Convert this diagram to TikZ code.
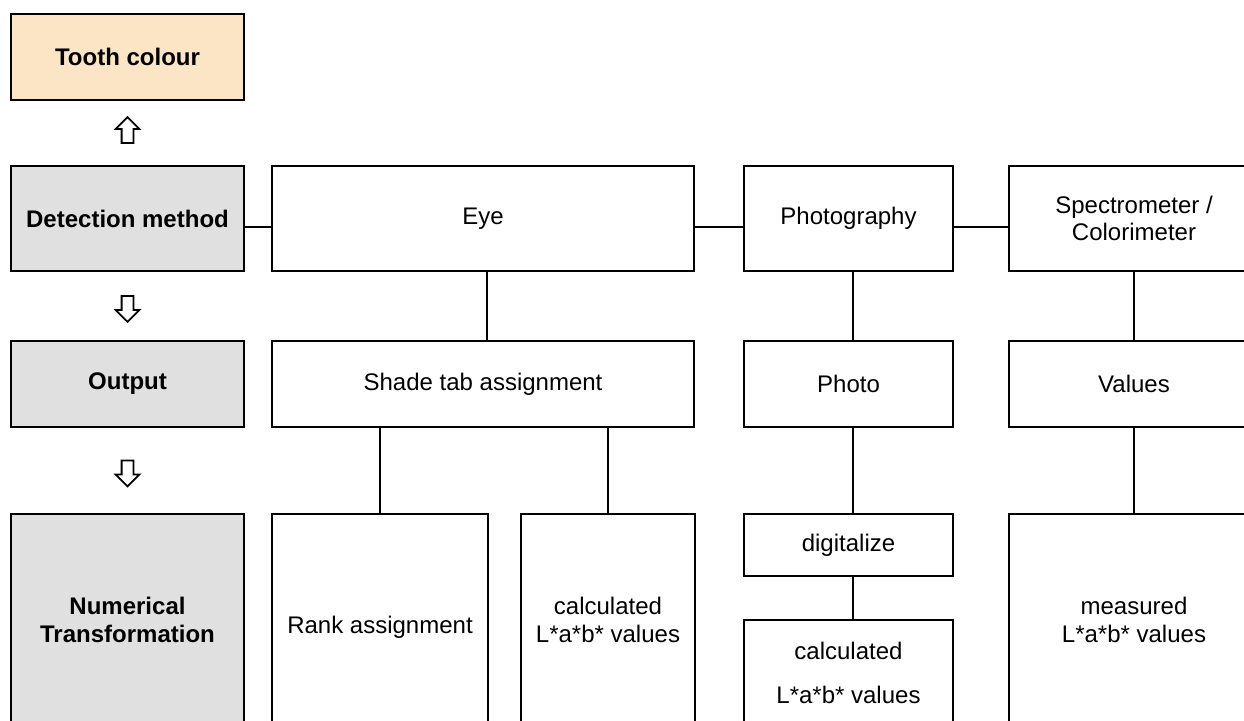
\documentclass[tikz,border=0pt]{standalone}
\usepackage{fontspec}
\setmainfont{Liberation Sans}
\usepackage{xcolor}
\definecolor{toothorange}{RGB}{252,229,196}
\definecolor{headgray}{RGB}{224,224,224}
\usepackage{tikz}
\usetikzlibrary{positioning, shapes.arrows, calc}

\begin{document}
\begin{tikzpicture}[
    box/.style={draw=black, line width=1pt, fill=white, align=center,
                font=\fontsize{13.66}{15.7}\selectfont, inner sep=2pt},
    headbox/.style={box, fill=headgray, font=\fontsize{13.66}{15.7}\selectfont\bfseries},
    link/.style={draw=black, line width=0.8pt},
    flowarrow/.style={draw=black, fill=white, line width=1pt, single arrow,
                single arrow head extend=0.12cm, minimum height=0.52cm,
                inner sep=0.1cm}
  ]
  \useasboundingbox (0,0) rectangle (24.88,14.4);
  \clip (0,0) rectangle (24.88,14.4);
  % Left column
  \node[headbox, fill=toothorange, minimum width=4.66cm, minimum height=1.72cm] (tooth) at (2.55,13.26) {Tooth colour};
  \node[headbox, minimum width=4.66cm, minimum height=2.10cm] (detect) at (2.55,10.03) {Detection method};
  \node[headbox, minimum width=4.66cm, minimum height=1.72cm] (output) at (2.55,6.72) {Output};
  \node[headbox, minimum width=4.66cm, minimum height=4.24cm] (numeric) at (2.55,2.00) {Numerical\\Transformation};
  % Hollow arrows between the categories
  \node[flowarrow, rotate=90] (uparr) at ($(tooth.south)!0.5!(detect.north)$) {};
  \node[flowarrow, rotate=-90] (downarr) at ($(detect.south)!0.5!(output.north)$) {};
  \node[flowarrow, rotate=-90] (downarrb) at ($(output.south)!0.5!(numeric.north)$) {};
  % Detection methods
  \node[box, minimum width=8.44cm, minimum height=2.10cm] (eye) at (9.66,10.03) {Eye};
  \node[box, minimum width=4.18cm, minimum height=2.10cm] (photography) at (16.97,10.03) {Photography};
  \node[box, minimum width=5.00cm, minimum height=2.10cm] (spectro) at (22.68,10.03) {Spectrometer /\\Colorimeter};
  % Outputs
  \node[box, minimum width=8.44cm, minimum height=1.72cm] (shade) at (9.66,6.72) {Shade tab assignment};
  \node[box, minimum width=4.18cm, minimum height=1.72cm] (photo) at (16.97,6.72) {Photo};
  \node[box, minimum width=5.00cm, minimum height=1.72cm] (values) at (22.68,6.72) {Values};
  % Numerical transformations
  \node[box, minimum width=4.32cm, minimum height=4.52cm] (rank) at (7.60,1.86) {Rank assignment};
  \node[box, minimum width=3.48cm, minimum height=4.24cm] (calclab) at (12.16,2.00) {calculated\\L*a*b* values};
  \node[box, minimum width=4.18cm, minimum height=1.24cm] (digital) at (16.97,3.50) {digitalize};
  \node[box, minimum width=4.18cm, minimum height=2.10cm] (photolab) at (16.97,0.95) {calculated\\[0.33cm]L*a*b* values};
  \node[box, minimum width=5.00cm, minimum height=4.24cm] (measured) at (22.68,2.00) {measured\\L*a*b* values};
  % Connectors
  \draw[link] ([yshift=-1.7mm]detect.east) -- ([yshift=-1.7mm]eye.west);
  \draw[link] ([yshift=-1.7mm]eye.east) -- ([yshift=-1.7mm]photography.west);
  \draw[link] ([yshift=-1.7mm]photography.east) -- ([yshift=-1.7mm]spectro.west);
  \draw[link] ([xshift=0.08cm]eye.south) -- ([xshift=0.08cm]shade.north);
  \draw[link] ([xshift=0.09cm]photography.south) -- ([xshift=0.09cm]photo.north);
  \draw[link] (spectro.south) -- (values.north);
  \draw[link] (rank.north) -- (rank.north |- shade.south);
  \draw[link] (calclab.north) -- (calclab.north |- shade.south);
  \draw[link] ([xshift=0.09cm]photo.south) -- ([xshift=0.09cm]digital.north);
  \draw[link] ([xshift=0.09cm]digital.south) -- ([xshift=0.09cm]photolab.north);
  \draw[link] (values.south) -- (measured.north);
\end{tikzpicture}
\end{document}
